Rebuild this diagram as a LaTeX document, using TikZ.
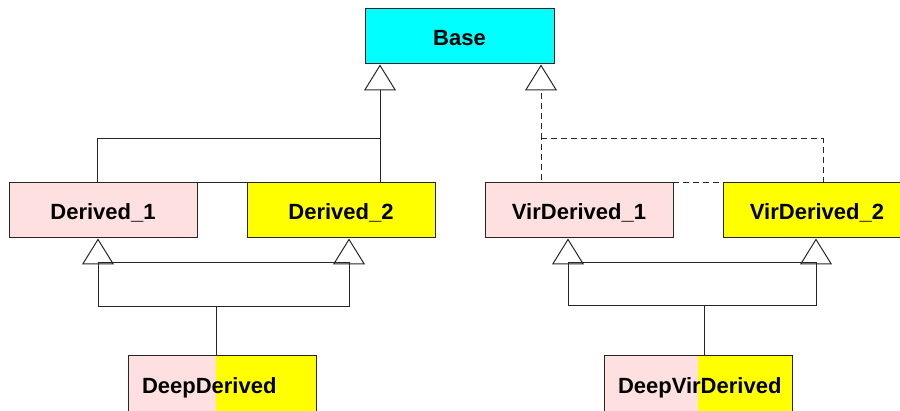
\documentclass[tikz,border=0pt]{standalone}
\usepackage{fontspec}
\setmainfont{Liberation Sans}
\usetikzlibrary{arrows.meta}
\definecolor{pinkc}{RGB}{255,224,224}
\definecolor{yellowc}{RGB}{255,255,0}
\definecolor{cyanc}{RGB}{0,255,255}
\tikzset{
  cls/.style={draw=black!85, line width=1pt, rectangle, minimum width=188pt,
    minimum height=55pt, inner sep=0pt, text height=19pt, text depth=0pt,
    font=\fontsize{22}{26}\selectfont\bfseries},
  split/.style={cls, minimum height=58pt, inner xsep=14pt, text width=160pt, align=left,
    path picture={
      \fill[pinkc] (path picture bounding box.north west) rectangle ([xshift=#1]path picture bounding box.south west);
      \fill[yellowc] ([xshift=#1]path picture bounding box.north west) rectangle (path picture bounding box.south east);
    }},
  link/.style={line width=1pt, black!85},
  vlink/.style={link, dash pattern=on 6pt off 4pt},
  inherit/.style={-{Triangle[open, length=26pt, width=32pt]}},
}
\begin{document}
\begin{tikzpicture}[x=1pt, y=-1pt]
\useasboundingbox (0,0) rectangle (900,411);

% classes
\node[cls, fill=cyanc, minimum width=189pt] (base) at (459.5,36.5) {Base};
\node[cls, fill=pinkc]   (d1) at (103,210.5) {Derived\_1};
\node[cls, fill=yellowc] (d2) at (341,210.5) {Derived\_2};
\node[cls, fill=pinkc]   (v1) at (579,210.5) {VirDerived\_1};
\node[cls, fill=yellowc] (v2) at (817,210.5) {VirDerived\_2};
\node[split=88pt] (dd) at (222,384.5) {DeepDerived};
\node[split=94pt] (dv) at (698,384.5) {DeepVirDerived};

% junction points of the inheritance trees
\coordinate (a1) at (97,139);  \coordinate (a2) at (380,139);
\coordinate (b1) at (541,139); \coordinate (b2) at (823,139);
\coordinate (c1) at (98,263);  \coordinate (c2) at (349,263);
\coordinate (c3) at (349,307); \coordinate (c4) at (98,307);
\coordinate (cs) at (216,307);
\coordinate (e1) at (568,263); \coordinate (e2) at (816,263);
\coordinate (e3) at (816,306); \coordinate (e4) at (568,306);
\coordinate (es) at (704,306);

% ordinary inheritance: Derived_1, Derived_2 -> Base
\draw[link] (a1) -- (a2) -- (a2 |- d2.north) -- (a1 |- d1.north) -- cycle;
\draw[link, inherit] (a2 |- d2.north) -- (a2 |- base.south);

% virtual inheritance: VirDerived_1, VirDerived_2 -> Base
\draw[vlink] (b1) -- (b2) -- (b2 |- v2.north) -- (b1 |- v1.north) -- cycle;
\draw[vlink, inherit] (b1) -- (b1 |- base.south);

% DeepDerived -> Derived_1, Derived_2
\draw[link] (c1) -- (c2) -- (c3) -- (c4) -- cycle;
\draw[link] (cs) -- (cs |- dd.north);
\draw[link, inherit] (c1) -- (c1 |- d1.south);
\draw[link, inherit] (c2) -- (c2 |- d2.south);

% DeepVirDerived -> VirDerived_1, VirDerived_2
\draw[link] (e1) -- (e2) -- (e3) -- (e4) -- cycle;
\draw[link] (es) -- (es |- dv.north);
\draw[link, inherit] (e1) -- (e1 |- v1.south);
\draw[link, inherit] (e2) -- (e2 |- v2.south);
\end{tikzpicture}
\end{document}
